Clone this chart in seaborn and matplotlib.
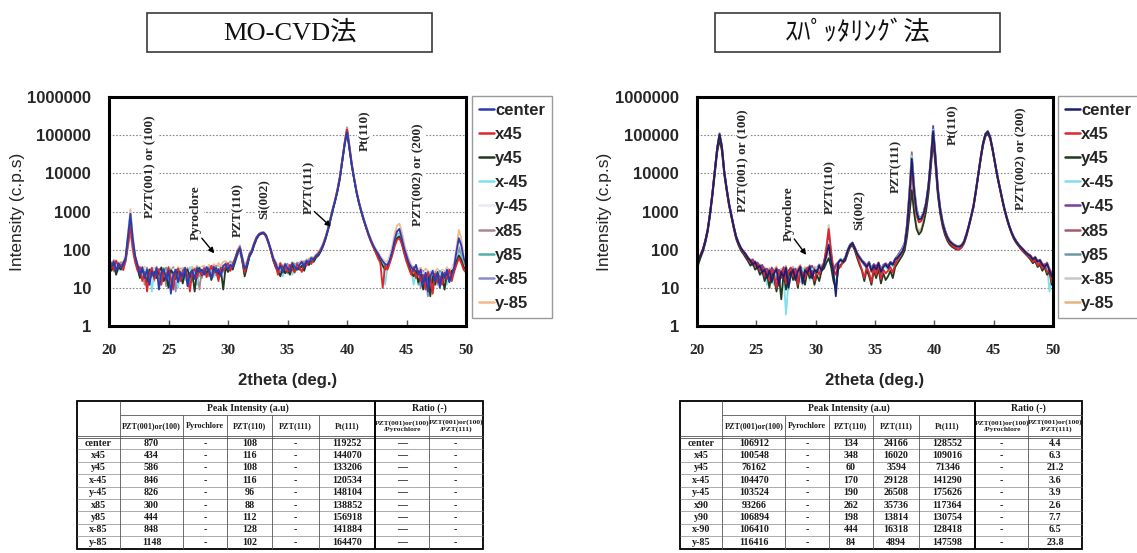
import numpy as np
import pandas as pd
import seaborn as sns
import matplotlib.pyplot as plt
from matplotlib.lines import Line2D
from matplotlib.patches import Rectangle

# ---------------------------------------------------------------- data
SERIES = ["center", "x45", "y45", "x-45", "y-45", "x85", "y85", "x-85", "y-85"]

# MO-CVD scan: 20.0 - 50.0 deg, 0.2 deg step
cvd_two_theta = np.round(np.arange(20.0, 50.001, 0.2), 1)

cvd_center = [
    42, 35, 50, 28, 44, 33, 40, 62, 230, 870,
    190, 68, 40, 22, 35, 18, 30, 12, 27, 20,
    33, 9, 25, 31, 16, 28, 7, 22, 30, 14,
    26, 19, 32, 11, 24, 29, 17, 33, 26, 30,
    22, 35, 28, 18, 36, 25, 31, 20, 38, 42,
    30, 40, 35, 55, 85, 108, 60, 32, 40, 70,
    90, 140, 200, 250, 275, 280, 240, 160, 100, 60,
    45, 30, 38, 25, 42, 33, 28, 45, 36, 30,
    40, 48, 35, 52, 45, 60, 55, 70, 75, 95,
    130, 200, 330, 600, 1100, 1900, 3500, 7500, 20000, 55000,
    119252, 45000, 16000, 7000, 3200, 1700, 1000, 620, 400, 260,
    180, 130, 100, 80, 62, 50, 42, 40, 55, 90,
    180, 300, 350, 200, 110, 70, 45, 35, 28, 40,
    22, 30, 12, 25, 8, 20, 28, 15, 24, 10,
    26, 18, 30, 14, 22, 35, 90, 200, 130, 60,
    40]
cvd_x45 = [
    38, 45, 30, 52, 36, 41, 29, 55, 150, 434,
    120, 50, 28, 35, 15, 26, 8, 24, 33, 17,
    25, 31, 12, 28, 20, 35, 18, 9, 26, 32,
    15, 28, 34, 20, 8, 27, 31, 18, 29, 22,
    33, 19, 26, 38, 24, 30, 15, 34, 28, 36,
    44, 28, 42, 60, 92, 116, 55, 25, 45, 75,
    95, 150, 210, 255, 270, 265, 220, 150, 90, 55,
    38, 22, 44, 30, 35, 26, 40, 31, 25, 42,
    35, 26, 44, 38, 50, 42, 58, 66, 80, 100,
    140, 210, 340, 620, 1150, 2000, 3800, 8000, 22000, 60000,
    144070, 50000, 17000, 7300, 3300, 1750, 1000, 600, 380, 240,
    165, 120, 85, 60, 45, 10, 38, 30, 45, 70,
    120, 180, 200, 140, 80, 48, 32, 22, 35, 18,
    28, 15, 22, 9, 26, 18, 7, 24, 14, 20,
    12, 25, 17, 30, 15, 26, 40, 60, 45, 30,
    25]
cvd_y45 = [
    35, 28, 40, 22, 36, 30, 45, 58, 190, 586,
    150, 55, 32, 18, 29, 24, 14, 30, 21, 26,
    18, 27, 34, 15, 22, 10, 29, 24, 17, 31,
    22, 13, 27, 30, 19, 25, 8, 28, 33, 21,
    29, 24, 31, 16, 27, 33, 22, 30, 9, 35,
    26, 33, 30, 48, 80, 108, 50, 20, 35, 65,
    85, 130, 190, 240, 260, 270, 225, 150, 95, 52,
    35, 28, 20, 36, 24, 30, 22, 38, 27, 33,
    30, 38, 28, 45, 40, 50, 48, 62, 70, 90,
    125, 190, 320, 580, 1050, 1850, 3400, 7300, 21000, 58000,
    133206, 47000, 16500, 7100, 3200, 1700, 980, 600, 380, 250,
    170, 120, 90, 68, 50, 38, 30, 35, 48, 85,
    150, 200, 220, 160, 90, 55, 38, 25, 20, 28,
    14, 22, 9, 18, 25, 6, 20, 12, 26, 16,
    20, 9, 24, 15, 28, 30, 50, 70, 55, 35,
    30]
cvd_xm45 = [
    40, 48, 33, 45, 28, 42, 36, 60, 220, 846,
    185, 62, 36, 26, 20, 30, 16, 25, 8, 28,
    30, 20, 35, 24, 28, 14, 32, 19, 25, 10,
    28, 33, 16, 26, 35, 21, 29, 12, 30, 25,
    35, 20, 30, 27, 19, 33, 28, 36, 25, 40,
    33, 45, 38, 50, 88, 116, 58, 28, 42, 72,
    92, 145, 205, 250, 272, 268, 230, 155, 98, 58,
    40, 26, 35, 20, 38, 29, 34, 22, 40, 28,
    36, 42, 30, 48, 38, 55, 50, 64, 78, 98,
    132, 205, 335, 610, 1100, 1900, 3500, 7400, 20000, 56000,
    120534, 45000, 16000, 7000, 3150, 1680, 990, 610, 390, 255,
    175, 125, 95, 75, 58, 46, 12, 36, 50, 88,
    160, 230, 260, 180, 95, 62, 40, 30, 12, 25,
    18, 26, 11, 22, 15, 27, 9, 21, 17, 24,
    15, 22, 12, 27, 18, 32, 55, 80, 60, 38,
    32]
cvd_ym45 = [
    45, 36, 48, 32, 40, 38, 44, 65, 225, 826,
    180, 60, 38, 30, 25, 33, 20, 28, 22, 30,
    27, 22, 30, 18, 26, 24, 20, 31, 23, 26,
    30, 24, 28, 22, 30, 26, 24, 32, 28, 34,
    28, 33, 30, 25, 34, 29, 35, 27, 36, 40,
    35, 42, 38, 52, 80, 96, 55, 35, 42, 72,
    95, 145, 205, 250, 278, 275, 235, 158, 100, 62,
    44, 34, 40, 30, 40, 35, 32, 44, 38, 34,
    42, 46, 40, 50, 48, 58, 56, 68, 78, 98,
    138, 210, 345, 630, 1150, 2000, 3700, 8000, 22000, 62000,
    148104, 52000, 17500, 7500, 3400, 1800, 1050, 640, 410, 270,
    185, 135, 102, 82, 64, 52, 44, 45, 60, 100,
    190, 280, 300, 210, 115, 72, 48, 36, 30, 34,
    26, 30, 22, 28, 20, 25, 30, 22, 27, 20,
    28, 24, 32, 22, 30, 40, 80, 150, 110, 55,
    42]
cvd_x85 = [
    36, 42, 27, 38, 31, 47, 33, 48, 120, 300,
    90, 45, 30, 24, 32, 12, 28, 22, 34, 15,
    29, 24, 18, 33, 11, 26, 22, 35, 19, 28,
    20, 31, 25, 14, 33, 18, 27, 24, 9, 30,
    26, 30, 22, 34, 28, 21, 37, 26, 32, 38,
    28, 36, 42, 50, 72, 88, 52, 30, 38, 66,
    88, 138, 198, 245, 268, 272, 228, 152, 96, 56,
    36, 27, 40, 22, 33, 38, 25, 41, 30, 37,
    33, 45, 38, 46, 52, 48, 60, 64, 82, 96,
    135, 200, 335, 615, 1120, 1950, 3600, 7700, 21500, 60000,
    138852, 50000, 17000, 7300, 3300, 1760, 1020, 620, 400, 262,
    178, 128, 96, 74, 56, 44, 36, 40, 52, 92,
    170, 255, 280, 190, 105, 66, 44, 32, 25, 30,
    20, 27, 14, 24, 18, 11, 26, 19, 23, 13,
    24, 15, 27, 19, 25, 36, 65, 120, 90, 45,
    35]
cvd_y85 = [
    40, 33, 46, 35, 29, 44, 38, 52, 160, 444,
    125, 52, 34, 20, 28, 22, 31, 15, 24, 29,
    21, 30, 14, 27, 33, 19, 25, 12, 28, 22,
    32, 17, 29, 24, 13, 30, 22, 35, 20, 27,
    31, 25, 34, 21, 30, 27, 33, 24, 37, 35,
    38, 30, 44, 56, 90, 112, 54, 24, 40, 68,
    90, 142, 202, 248, 270, 274, 232, 154, 97, 57,
    42, 33, 27, 39, 31, 24, 37, 29, 43, 32,
    38, 44, 36, 42, 55, 52, 58, 68, 76, 104,
    142, 215, 350, 640, 1180, 2050, 3800, 8200, 23000, 63000,
    156918, 55000, 18000, 7600, 3450, 1820, 1060, 650, 410, 268,
    182, 130, 98, 76, 60, 48, 40, 44, 56, 95,
    165, 220, 240, 170, 92, 60, 40, 28, 22, 30,
    12, 24, 18, 27, 14, 22, 10, 25, 19, 28,
    18, 26, 14, 24, 20, 33, 60, 100, 75, 40,
    33]
cvd_xm85 = [
    44, 37, 49, 31, 43, 36, 42, 63, 228, 848,
    188, 64, 37, 24, 30, 20, 34, 18, 29, 24,
    36, 15, 28, 22, 34, 18, 26, 30, 8, 27,
    24, 30, 20, 33, 26, 15, 32, 28, 34, 18,
    34, 28, 20, 32, 26, 38, 24, 33, 30, 44,
    36, 48, 40, 58, 95, 128, 65, 30, 46, 78,
    98, 150, 212, 258, 280, 282, 238, 160, 102, 60,
    46, 32, 42, 28, 37, 43, 30, 39, 33, 46,
    44, 40, 50, 44, 56, 62, 58, 72, 80, 102,
    138, 208, 340, 625, 1130, 1970, 3650, 7800, 21800, 60500,
    141884, 50500, 17200, 7350, 3320, 1770, 1030, 625, 405, 265,
    180, 132, 100, 78, 60, 50, 42, 44, 58, 98,
    185, 295, 330, 220, 118, 74, 50, 36, 30, 32,
    24, 10, 28, 20, 6, 24, 17, 26, 12, 22,
    26, 20, 31, 16, 27, 38, 75, 180, 120, 52,
    40]
cvd_ym85 = [
    48, 40, 55, 36, 47, 42, 50, 70, 280, 1148,
    230, 72, 42, 33, 27, 36, 24, 31, 26, 33,
    30, 26, 34, 20, 30, 25, 33, 28, 22, 35,
    29, 34, 26, 31, 24, 36, 28, 38, 32, 36,
    38, 30, 40, 33, 42, 35, 45, 38, 48, 50,
    42, 50, 44, 60, 85, 102, 62, 40, 50, 80,
    100, 152, 215, 262, 285, 290, 245, 165, 105, 66,
    48, 38, 46, 35, 44, 40, 36, 48, 42, 40,
    46, 52, 45, 56, 54, 65, 62, 75, 88, 110,
    150, 225, 365, 670, 1220, 2100, 3900, 8500, 24000, 66000,
    164470, 58000, 18500, 7800, 3550, 1870, 1080, 660, 420, 275,
    195, 140, 108, 86, 68, 56, 48, 50, 70, 120,
    260, 420, 480, 300, 150, 85, 56, 40, 34, 38,
    30, 34, 25, 32, 28, 22, 30, 26, 32, 24,
    30, 26, 35, 28, 32, 45, 110, 330, 200, 70,
    50]

# sputtering scan: 20.1 - 49.9 deg, 0.2 deg step
sput_two_theta = np.round(np.arange(20.1, 49.95, 0.2), 1)

sput_center = [
    48, 70, 100, 170, 330, 900, 3000, 12000, 45000, 106912,
    50000, 11000, 4000, 1600, 800, 400, 220, 150, 110, 90,
    75, 60, 52, 40, 48, 33, 38, 25, 30, 18,
    28, 14, 24, 31, 12, 26, 19, 33, 10, 22,
    30, 16, 27, 35, 13, 29, 24, 36, 18, 30,
    25, 38, 28, 40, 70, 134, 50, 26, 6, 45,
    55, 48, 60, 95, 130, 150, 110, 78, 62, 50,
    42, 35, 45, 28, 38, 30, 44, 26, 36, 40,
    33, 45, 40, 55, 62, 75, 90, 130, 380, 2600,
    24166, 3500, 1000, 620, 650, 900, 1600, 4500, 22000, 128552,
    24000, 3500, 1100, 500, 300, 210, 165, 145, 130, 122,
    120, 130, 160, 250, 420, 750, 1400, 3500, 9500, 25000,
    60000, 105000, 125000, 90000, 45000, 20000, 9000, 4500, 2300, 1200,
    700, 430, 290, 210, 165, 135, 115, 100, 85, 75,
    68, 55, 62, 48, 52, 40, 35, 42, 28, 20]
sput_x45 = [
    55, 75, 105, 175, 340, 920, 3100, 12000, 44000, 100548,
    48000, 10500, 3900, 1550, 780, 390, 210, 145, 105, 85,
    70, 58, 45, 50, 36, 42, 28, 34, 20, 27,
    15, 30, 22, 10, 27, 18, 29, 13, 25, 32,
    20, 28, 12, 31, 25, 17, 33, 22, 28, 15,
    30, 22, 35, 45, 110, 348, 90, 30, 22, 40,
    35, 50, 58, 88, 125, 145, 105, 70, 45, 30,
    18, 36, 25, 14, 33, 22, 40, 17, 30, 24,
    28, 35, 25, 42, 55, 68, 85, 120, 340, 2000,
    16020, 2800, 850, 520, 560, 820, 1450, 4000, 19000, 109016,
    21000, 3100, 1000, 460, 280, 190, 150, 128, 115, 105,
    100, 118, 150, 230, 400, 720, 1350, 3300, 9000, 23500,
    57000, 100000, 120000, 86000, 43000, 19000, 8600, 4300, 2200, 1150,
    680, 420, 280, 200, 158, 130, 105, 92, 80, 68,
    60, 48, 55, 38, 45, 32, 40, 25, 30, 14]
sput_y45 = [
    40, 62, 90, 150, 290, 780, 2500, 9500, 35000, 76162,
    38000, 9000, 3400, 1400, 700, 350, 190, 130, 95, 78,
    62, 50, 38, 44, 30, 35, 22, 28, 15, 24,
    10, 26, 18, 8, 22, 5, 25, 9, 20, 28,
    16, 24, 10, 27, 21, 12, 28, 18, 25, 12,
    22, 15, 28, 32, 45, 60, 35, 15, 10, 30,
    40, 45, 52, 80, 115, 130, 95, 60, 40, 28,
    15, 30, 20, 12, 28, 18, 32, 13, 24, 16,
    20, 28, 18, 35, 44, 55, 70, 95, 220, 800,
    3594, 900, 350, 250, 300, 500, 1000, 2800, 13000, 71346,
    15000, 2600, 850, 400, 240, 170, 135, 118, 108, 100,
    102, 115, 145, 220, 380, 680, 1250, 3100, 8500, 22000,
    52000, 92000, 110000, 80000, 40000, 18000, 8200, 4100, 2100, 1100,
    650, 400, 270, 190, 150, 125, 102, 88, 76, 65,
    55, 44, 50, 35, 40, 28, 35, 22, 26, 12]
sput_xm45 = [
    45, 68, 98, 165, 325, 880, 2950, 11800, 44500, 104470,
    49500, 10800, 3950, 1580, 790, 395, 215, 148, 108, 88,
    72, 55, 48, 38, 45, 30, 35, 22, 28, 12,
    25, 18, 12, 28, 16, 22, 20, 2, 14, 26,
    30, 20, 26, 14, 33, 24, 28, 16, 32, 26,
    34, 26, 40, 42, 80, 170, 60, 22, 12, 35,
    58, 50, 62, 98, 135, 152, 112, 80, 64, 48,
    40, 33, 46, 30, 36, 28, 42, 25, 38, 35,
    30, 42, 38, 52, 65, 80, 100, 140, 420, 3000,
    29128, 4200, 1150, 680, 700, 950, 1700, 4700, 23000, 141290,
    26000, 3700, 1150, 520, 310, 215, 168, 146, 130, 124,
    122, 135, 165, 255, 430, 770, 1450, 3600, 9700, 25500,
    61000, 106000, 126000, 91000, 45500, 20200, 9100, 4550, 2320, 1220,
    710, 435, 292, 212, 166, 136, 116, 101, 86, 76,
    66, 52, 60, 46, 50, 38, 33, 40, 8, 22]
sput_ym45 = [
    52, 72, 102, 172, 335, 910, 3050, 12200, 45500, 103524,
    49000, 10900, 3980, 1600, 805, 402, 222, 152, 112, 92,
    78, 62, 50, 56, 42, 46, 34, 40, 28, 32,
    22, 34, 26, 16, 30, 22, 35, 18, 28, 34,
    26, 32, 18, 36, 28, 22, 34, 27, 38, 24,
    32, 40, 30, 46, 85, 190, 62, 30, 40, 46,
    56, 52, 64, 100, 138, 155, 115, 82, 66, 52,
    46, 38, 48, 32, 42, 36, 46, 30, 40, 44,
    38, 48, 42, 58, 70, 88, 110, 150, 450, 3100,
    26508, 3900, 1100, 660, 690, 960, 1750, 5000, 26000, 175626,
    30000, 4200, 1250, 560, 330, 225, 175, 150, 134, 126,
    124, 136, 168, 258, 435, 780, 1470, 3650, 9800, 26000,
    62000, 108000, 128000, 92000, 46000, 20500, 9200, 4600, 2350, 1240,
    720, 440, 296, 215, 168, 138, 118, 102, 88, 78,
    70, 56, 64, 50, 54, 42, 38, 45, 30, 24]
sput_x85 = [
    46, 66, 96, 160, 315, 860, 2850, 11200, 41000, 93266,
    45000, 10200, 3800, 1520, 770, 385, 212, 146, 106, 86,
    72, 57, 50, 42, 47, 31, 36, 24, 32, 20,
    30, 16, 26, 33, 14, 28, 21, 35, 12, 24,
    32, 18, 29, 37, 15, 31, 26, 38, 20, 32,
    27, 36, 30, 44, 95, 262, 75, 28, 36, 43,
    53, 46, 58, 92, 128, 148, 108, 76, 60, 48,
    40, 33, 43, 26, 36, 28, 42, 24, 34, 38,
    31, 43, 38, 53, 66, 82, 105, 150, 480, 3400,
    35736, 4800, 1250, 720, 720, 960, 1650, 4400, 21000, 117364,
    22500, 3300, 1050, 480, 290, 200, 158, 138, 124, 116,
    118, 128, 158, 245, 410, 740, 1380, 3450, 9300, 24500,
    59000, 103000, 123000, 88000, 44000, 19500, 8800, 4400, 2250, 1180,
    690, 425, 285, 205, 162, 133, 112, 97, 84, 74,
    64, 58, 50, 44, 48, 36, 42, 30, 25, 18]
sput_y85 = [
    50, 71, 99, 168, 328, 895, 3000, 12000, 45000, 106894,
    50500, 11100, 4050, 1620, 810, 405, 222, 151, 111, 91,
    76, 61, 53, 41, 49, 34, 39, 26, 31, 19,
    29, 15, 25, 32, 11, 27, 20, 34, 9, 23,
    31, 17, 28, 36, 14, 30, 25, 37, 19, 31,
    26, 39, 29, 41, 78, 198, 58, 27, 37, 44,
    54, 47, 59, 94, 129, 149, 109, 77, 61, 49,
    41, 34, 44, 27, 37, 29, 43, 25, 35, 39,
    32, 44, 39, 54, 64, 78, 95, 125, 330, 1700,
    13814, 2500, 800, 520, 580, 860, 1580, 4500, 21500, 130754,
    24500, 3500, 1100, 500, 300, 212, 167, 146, 131, 123,
    121, 131, 161, 251, 421, 752, 1405, 3520, 9550, 25100,
    60500, 105500, 125500, 90500, 45200, 20100, 9050, 4520, 2310, 1205,
    702, 432, 291, 211, 166, 136, 116, 101, 86, 76,
    69, 56, 63, 49, 53, 41, 36, 43, 29, 21]
sput_xm85 = [
    47, 69, 101, 171, 332, 905, 3020, 12100, 45200, 106410,
    50200, 11050, 4020, 1610, 805, 402, 221, 151, 110, 90,
    74, 59, 51, 39, 47, 32, 37, 24, 29, 17,
    27, 13, 23, 30, 11, 25, 18, 32, 9, 21,
    29, 15, 26, 34, 12, 28, 23, 35, 17, 29,
    24, 37, 27, 42, 120, 444, 95, 25, 36, 44,
    57, 49, 61, 96, 131, 151, 111, 79, 63, 51,
    39, 36, 42, 29, 35, 31, 41, 27, 33, 41,
    32, 44, 39, 54, 64, 80, 98, 130, 350, 2000,
    16318, 2800, 880, 560, 610, 880, 1600, 4550, 21800, 128418,
    24200, 3480, 1090, 498, 298, 210, 166, 145, 130, 122,
    120, 130, 160, 250, 420, 750, 1400, 3500, 9500, 25000,
    60000, 105000, 125000, 90000, 45000, 20000, 9000, 4500, 2300, 1200,
    700, 430, 290, 210, 165, 135, 115, 100, 85, 75,
    68, 55, 62, 48, 52, 40, 35, 42, 28, 20]
sput_ym85 = [
    53, 74, 104, 176, 345, 940, 3150, 12600, 48000, 116416,
    53000, 11500, 4150, 1650, 820, 410, 225, 154, 113, 93,
    79, 63, 55, 45, 51, 37, 42, 30, 35, 26,
    33, 25, 31, 36, 22, 32, 28, 38, 24, 30,
    36, 27, 33, 40, 25, 35, 31, 40, 28, 36,
    33, 42, 35, 46, 60, 84, 52, 34, 42, 48,
    58, 52, 64, 98, 132, 150, 112, 82, 66, 54,
    46, 40, 48, 34, 42, 36, 47, 33, 40, 44,
    38, 48, 44, 58, 66, 78, 92, 115, 270, 1000,
    4894, 1100, 420, 300, 360, 600, 1200, 3600, 19500, 147598,
    27500, 3900, 1200, 540, 320, 222, 172, 150, 134, 126,
    124, 134, 166, 256, 430, 775, 1460, 3630, 9750, 25800,
    62000, 107000, 127000, 91500, 45800, 20400, 9150, 4580, 2340, 1230,
    715, 440, 295, 214, 168, 138, 118, 103, 88, 78,
    72, 60, 66, 52, 56, 45, 40, 47, 33, 26]

cvd_curves = [cvd_center, cvd_x45, cvd_y45, cvd_xm45, cvd_ym45,
              cvd_x85, cvd_y85, cvd_xm85, cvd_ym85]
sput_curves = [sput_center, sput_x45, sput_y45, sput_xm45, sput_ym45,
               sput_x85, sput_y85, sput_xm85, sput_ym85]

CVD_COLORS = ["#2a3cb4", "#e0262a", "#1f3a1f", "#7ee0ec", "#ece6f2",
              "#a88890", "#4fb0a8", "#8c8cc4", "#f4b88c"]
SPUT_COLORS = ["#1c1f6e", "#e0262e", "#1f3a1f", "#7ee0ec", "#7a3d9c",
               "#a85a6a", "#6c96a8", "#c8c8c8", "#e2b482"]

Y_TICKS = [1, 10, 100, 1000, 10000, 100000, 1000000]
X_TICKS = [20, 25, 30, 35, 40, 45, 50]

# peak labels: (text, 2theta, intensity)
cvd_notes = [("PZT(001) or (100)", 23.5, 15000), ("Pyroclore", 27.3, 930),
             ("PZT(110)", 30.8, 1100), ("Si(002)", 33.0, 2100),
             ("PZT(111)", 36.8, 4300), ("Pt(110)", 41.55, 130000),
             ("PZT(002) or (200)", 45.97, 9300)]
cvd_arrows = [((27.8, 200), (28.85, 80)), ((37.25, 1000), (38.65, 400))]
sput_notes = [("PZT(001) or (100)", 23.9, 22000), ("Pyroclore", 27.7, 880),
              ("PZT(110)", 31.2, 4300), ("Si(002)", 33.6, 1100),
              ("PZT(111)", 36.8, 15000), ("Pt(110)", 41.6, 185000),
              ("PZT(002) or (200)", 47.3, 24000)]
sput_arrows = [((28.2, 190), (29.2, 73))]

# peak intensity tables
TABLE_COLS = ["PZT(001)or(100)", "Pyrochlore", "PZT(110)", "PZT(111)", "Pt(111)"]
RATIO_COLS = ["PZT(001)or(100)\n/Pyrochlore", "PZT(001)or(100)\n/PZT(111)"]

cvd_rows = ["center", "x45", "y45", "x-45", "y-45", "x85", "y85", "x-85", "y-85"]
cvd_pzt001 = [870, 434, 586, 846, 826, 300, 444, 848, 1148]
cvd_pzt110 = [108, 116, 108, 116, 96, 88, 112, 128, 102]
cvd_pt111 = [119252, 144070, 133206, 120534, 148104, 138852, 156918, 141884, 164470]

sput_rows = ["center", "x45", "y45", "x-45", "y-45", "x90", "y90", "x-90", "y-85"]
sput_pzt001 = [106912, 100548, 76162, 104470, 103524, 93266, 106894, 106410, 116416]
sput_pzt110 = [134, 348, 60, 170, 190, 262, 198, 444, 84]
sput_pzt111 = [24166, 16020, 3594, 29128, 26508, 35736, 13814, 16318, 4894]
sput_pt111 = [128552, 109016, 71346, 141290, 175626, 117364, 130754, 128418, 147598]
sput_ratio = [4.4, 6.3, 21.2, 3.6, 3.9, 2.6, 7.7, 6.5, 23.8]

# ---------------------------------------------------------------- style
sns.set_theme(style="white")
plt.rcParams["font.family"] = ["Liberation Sans", "DejaVu Sans"]
SERIF = ["Liberation Serif", "DejaVu Serif"]
TITLE_FONT = ["Liberation Serif", "Noto Sans CJK JP"]

W, H = 1137, 553
fig = plt.figure(figsize=(W / 100, H / 100), dpi=100)
fig.patch.set_facecolor("white")


def px_rect(x0, y0, x1, y1):
    """Pixel box (origin top-left) -> figure-fraction rect."""
    return [x0 / W, 1 - y1 / H, (x1 - x0) / W, (y1 - y0) / H]


def title_box(x0, y0, x1, y1, text):
    fig.add_artist(Rectangle((x0 / W, 1 - y1 / H), (x1 - x0) / W, (y1 - y0) / H,
                             transform=fig.transFigure, fill=False,
                             ec="#3a3a3a", lw=1.2))
    fig.text((x0 + x1) / 2 / W, 1 - (y0 + y1) / 2 / H, text, ha="center",
             va="center", fontsize=19, family=TITLE_FONT, color="#111")


def xrd_panel(box, two_theta, curves, colors, notes, arrows, legend_x, ylab_x):
    x0, y0, x1, y1 = box
    ax = fig.add_axes(px_rect(*box))
    ax.set_yscale("log")
    frames = [pd.DataFrame({"two_theta": two_theta, "intensity": vals,
                            "position": name})
              for name, vals in zip(SERIES, curves)]
    data = pd.concat(frames, ignore_index=True)
    sns.lineplot(data=data, x="two_theta", y="intensity", hue="position",
                 hue_order=SERIES[::-1], palette=dict(zip(SERIES, colors)),
                 estimator=None, sort=False, legend=False, linewidth=1.3,
                 ax=ax)
    ax.set_xlim(20, 50)
    ax.set_ylim(1, 1e6)
    for level in Y_TICKS[1:-1]:
        ax.axhline(level, color="#8a8a8a", lw=0.8, ls=(0, (1.5, 1.5)),
                   zorder=0.5)
    ax.set_yticks(Y_TICKS)
    ax.set_yticklabels([str(v) for v in Y_TICKS], fontsize=12,
                       fontweight="bold")
    ax.yaxis.set_minor_locator(plt.NullLocator())
    ax.set_xticks(X_TICKS)
    ax.set_xticklabels([str(v) for v in X_TICKS], fontsize=11,
                       fontweight="bold", family=SERIF)
    ax.tick_params(axis="y", length=0, pad=13)
    ax.tick_params(axis="x", direction="in", length=4, width=1, pad=13,
                   bottom=True, color="#555")
    ax.set_xlabel("")
    ax.set_ylabel("")
    for sp in ax.spines.values():
        sp.set_visible(True)
        sp.set_color("black")
        sp.set_linewidth(2.2)
    ax.grid(False)

    for text, tx, ty in notes:
        ax.text(tx, ty, text, rotation=90, ha="center", va="center",
                fontsize=9.5, fontweight="bold", family=SERIF, zorder=4,
                bbox=dict(boxstyle="square,pad=0.15", fc="white", ec="none"))
    for tail, head in arrows:
        ax.annotate("", xy=head, xytext=tail, zorder=4,
                    arrowprops=dict(arrowstyle="-|>", color="black", lw=1.0,
                                    mutation_scale=8, shrinkA=0, shrinkB=0))

    handles = [Line2D([], [], color=c, lw=1.8) for c in colors]
    leg = ax.legend(handles, SERIES, loc="upper left",
                    bbox_to_anchor=(legend_x / W, 1 - 96 / H),
                    bbox_transform=fig.transFigure,
                    prop={"size": 12, "weight": "bold"},
                    frameon=True, fancybox=False, framealpha=1,
                    edgecolor="#9a9a9a", borderpad=0.4, labelspacing=0.55,
                    handlelength=0.9, handletextpad=0.1, borderaxespad=0)
    leg.get_frame().set_linewidth(1.0)

    fig.text((x0 + x1) / 2 / W, 1 - 381 / H, "2theta (deg.)", ha="center",
             va="center", fontsize=12, fontweight="bold")
    fig.text(ylab_x / W, 1 - (y0 + y1) / 2 / H, "Intensity (c.p.s)",
             rotation=90, ha="center", va="center", fontsize=12.5)
    return ax


COL_EDGES = [0, 0.105, 0.262, 0.37, 0.48, 0.595, 0.735, 0.866, 1.0]
HDR1, HDR2, ROW_H = 14.0, 22.0, 12.4


def draw_table(x0, x1, y0, rows, cells):
    ax = fig.add_axes(px_rect(x0, y0, x1, H))
    ax.set_xlim(0, 1)
    ax.set_ylim(H - y0, 0)
    ax.axis("off")
    body_top = HDR1 + HDR2
    bottom = body_top + ROW_H * len(rows)

    def rule(xs, ys, lw=0.6, color="#555"):
        ax.plot(xs, ys, color=color, lw=lw, solid_capstyle="butt",
                clip_on=False)

    for i in range(1, len(rows)):
        y = body_top + i * ROW_H
        rule([0, 1], [y, y], 0.5, "#8a8a8a")
    rule([COL_EDGES[1], 1], [HDR1, HDR1])
    rule([0, 1], [body_top - 1.2, body_top - 1.2])
    rule([0, 1], [body_top + 0.8, body_top + 0.8])
    for k in (2, 3, 4, 5, 7):
        rule([COL_EDGES[k]] * 2, [HDR1, bottom])
    rule([COL_EDGES[1]] * 2, [0, bottom])
    rule([COL_EDGES[6]] * 2, [0, bottom], 1.4, "black")
    ax.add_patch(Rectangle((0, 0), 1, bottom, fill=False, ec="black",
                           lw=1.3, clip_on=False))

    mid = lambda k: (COL_EDGES[k] + COL_EDGES[k + 1]) / 2
    txt = dict(family=SERIF, fontweight="bold", color="#1a1a1a",
               ha="center", va="center")
    ax.text((COL_EDGES[1] + COL_EDGES[6]) / 2, HDR1 / 2,
            "Peak Intensity (a.u)", fontsize=7, **txt)
    ax.text((COL_EDGES[6] + 1) / 2, HDR1 / 2, "Ratio (-)", fontsize=7, **txt)
    for k, name in enumerate(TABLE_COLS + RATIO_COLS):
        size = 5.4 if "\n" in name else 5.9
        ax.text(mid(k + 1), HDR1 + HDR2 / 2, name, fontsize=size,
                linespacing=1.3, **txt)
    for i, (label, values) in enumerate(zip(rows, cells)):
        y = body_top + (i + 0.5) * ROW_H
        ax.text(mid(0), y, label, fontsize=7.2, **txt)
        for k, v in enumerate(values):
            ax.text(mid(k + 1), y, v, fontsize=7.2, **txt)


# ---------------------------------------------------------------- figure
title_box(147, 13, 432, 52, "MO-CVD法")
title_box(715, 13, 1000, 52, "ｽﾊﾟｯﾀﾘﾝｸﾞ法")

xrd_panel((109, 97, 466, 326), cvd_two_theta, cvd_curves, CVD_COLORS,
          cvd_notes, cvd_arrows, legend_x=472, ylab_x=18)
xrd_panel((697, 97, 1053, 326), sput_two_theta, sput_curves, SPUT_COLORS,
          sput_notes, sput_arrows, legend_x=1058, ylab_x=604)

cvd_cells = [[str(a), "-", str(b), "-", str(c), "\u2014", "-"]
             for a, b, c in zip(cvd_pzt001, cvd_pzt110, cvd_pt111)]
sput_cells = [[str(a), "-", str(b), str(c), str(d), "-", f"{r:.1f}"]
              for a, b, c, d, r in zip(sput_pzt001, sput_pzt110, sput_pzt111,
                                       sput_pt111, sput_ratio)]
draw_table(77, 483, 401, cvd_rows, cvd_cells)
draw_table(680, 1082, 401, sput_rows, sput_cells)

fig.savefig("out.png", dpi=100, facecolor="white")
